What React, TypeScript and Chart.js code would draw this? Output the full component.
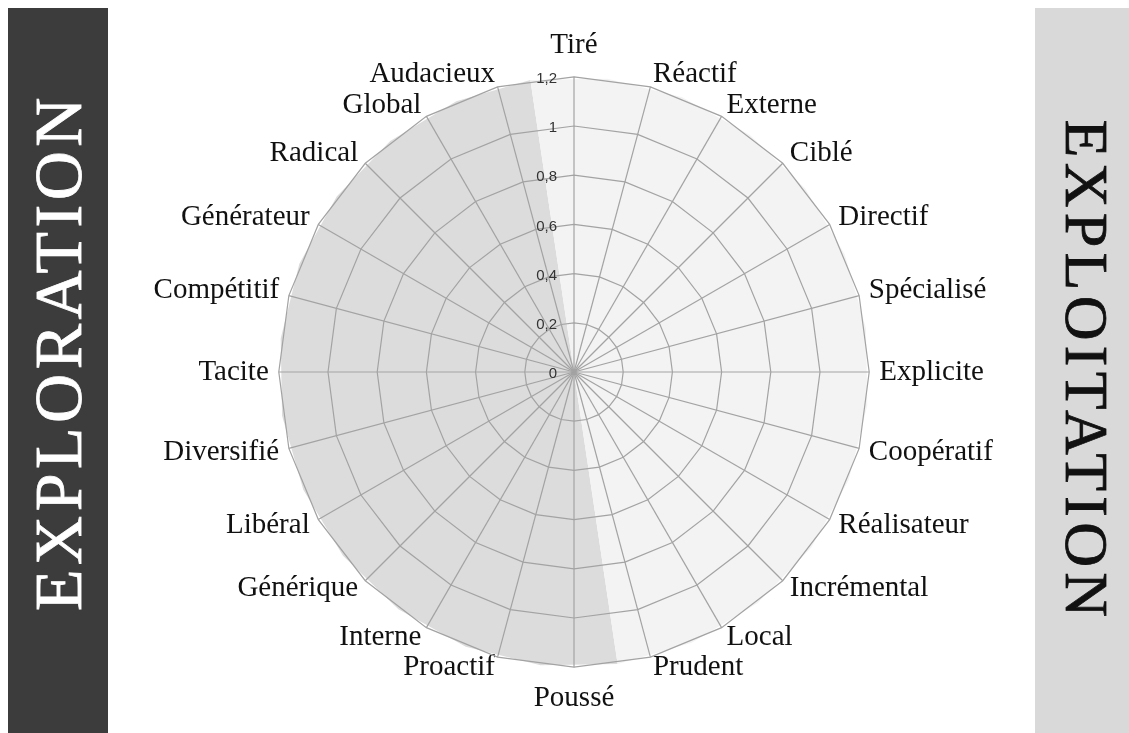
import React, { useEffect, useRef } from 'react';
import { Chart, registerables } from 'chart.js';

Chart.register(...registerables);

// ---- Data ----
const categories = [
  'Tiré', 'Réactif', 'Externe', 'Ciblé', 'Directif', 'Spécialisé',
  'Explicite', 'Coopératif', 'Réalisateur', 'Incrémental', 'Local', 'Prudent',
  'Poussé', 'Proactif', 'Interne', 'Générique', 'Libéral', 'Diversifié',
  'Tacite', 'Compétitif', 'Générateur', 'Radical', 'Global', 'Audacieux',
];
const exploitationValues = [
  1.2, 1.2, 1.2, 1.2, 1.2, 1.2, 1.2, 1.2, 1.2, 1.2, 1.2, 1.2,
  1.2, 0, 0, 0, 0, 0, 0, 0, 0, 0, 0, 0,
];
const explorationValues = [
  1.2, 0, 0, 0, 0, 0, 0, 0, 0, 0, 0, 0,
  1.2, 1.2, 1.2, 1.2, 1.2, 1.2, 1.2, 1.2, 1.2, 1.2, 1.2, 1.2,
];
const tickLabels = ['0', '0,2', '0,4', '0,6', '0,8', '1', '1,2'];
const axisMin = 0;
const axisMax = 1.2;
const axisStep = 0.2;
const leftPanelTitle = 'EXPLORATION';
const rightPanelTitle = 'EXPLOITATION';

// ---- Styles ----
const shadeTiltDeg = -8.5;
const lightFill = '#f3f3f3';
const darkFill = '#dcdcdc';
const gridColor = '#a3a3a3';
const serif = "'Liberation Serif', 'DejaVu Serif', serif";

function labelLineHeight(i: number) {
  const n = categories.length;
  if (i === 0 || i === n / 2 || i === n / 4 || i === (3 * n) / 4) return 1.2;
  const upper = i < n / 4 || i > (3 * n) / 4;
  return upper ? 0.17 : 0.07;
}
function labelPadding(i: number) {
  const n = categories.length;
  return i === 0 || i === n / 2 ? 14 : 10;
}

const tiltPlugin = {
  id: 'shadeTilt',
  beforeDatasetsDraw(chart: any) {
    const s = chart.scales.r;
    const ctx = chart.ctx;
    ctx.save();
    ctx.translate(s.xCenter, s.yCenter);
    ctx.rotate((shadeTiltDeg * Math.PI) / 180);
    ctx.translate(-s.xCenter, -s.yCenter);
  },
  afterDatasetsDraw(chart: any) {
    chart.ctx.restore();
  },
};

const tickLabelPlugin = {
  id: 'sideTicks',
  afterDraw(chart: any) {
    const s = chart.scales.r;
    const ctx = chart.ctx;
    ctx.save();
    ctx.font = "15px 'Liberation Sans', sans-serif";
    ctx.fillStyle = '#333333';
    ctx.textAlign = 'right';
    ctx.textBaseline = 'middle';
    s.ticks.forEach((t: any, i: number) => {
      const d = s.getDistanceFromCenterForValue(t.value);
      ctx.fillText(tickLabels[i] ?? String(t.label), s.xCenter - 17, s.yCenter - d + 2);
    });
    ctx.restore();
  },
};

function RadarChart() {
  const ref = useRef<HTMLCanvasElement | null>(null);
  useEffect(() => {
    if (!ref.current) return;
    const chart = new Chart(ref.current, {
      type: 'radar',
      data: {
        labels: categories,
        datasets: [
          {
            label: 'Exploitation',
            data: exploitationValues,
            backgroundColor: lightFill,
            borderWidth: 0,
            borderColor: 'rgba(0,0,0,0)',
            pointRadius: 0,
            pointHoverRadius: 0,
            fill: 'origin',
            clip: false as any,
          },
          {
            label: 'Exploration',
            data: explorationValues,
            backgroundColor: darkFill,
            borderWidth: 0,
            borderColor: 'rgba(0,0,0,0)',
            pointRadius: 0,
            pointHoverRadius: 0,
            fill: 'origin',
            clip: false as any,
          },
        ],
      },
      options: {
        responsive: false,
        animation: false,
        layout: { padding: { top: 28, bottom: 17, left: 0, right: 0 } },
        plugins: {
          legend: { display: false },
          tooltip: { enabled: false },
          filler: { drawTime: 'beforeDatasetDraw' } as any,
        },
        scales: {
          r: {
            min: axisMin,
            max: axisMax,
            beginAtZero: true,
            grid: { color: gridColor, lineWidth: 1.2, z: 1 } as any,
            angleLines: { color: gridColor, lineWidth: 1.2 },
            ticks: {
              display: false,
              stepSize: axisStep,
              z: 1,
              callback: (_v: any, i: number) => tickLabels[i],
            },
            pointLabels: {
              color: '#111111',
              padding: ((ctx: any) => labelPadding(ctx.index)) as any,
              font: ((ctx: any) => ({
                family: serif,
                size: 29,
                lineHeight: labelLineHeight(ctx.index),
              })) as any,
            },
          },
        },
      },
      plugins: [tiltPlugin, tickLabelPlugin],
    });
    return () => chart.destroy();
  }, []);
  return <canvas ref={ref} width={927} height={733} style={{ display: 'block' }} />;
}

export default function App() {
  return (
    <div
      style={{
        position: 'fixed',
        left: 0,
        top: 0,
        width: 1129,
        height: 733,
        background: '#ffffff',
        overflow: 'hidden',
      }}
    >
      <div
        style={{
          position: 'absolute',
          left: 8,
          top: 8,
          width: 100,
          height: 725,
          background: '#3c3c3c',
        }}
      />
      <div
        style={{
          position: 'absolute',
          left: 58,
          top: 352,
          transform: 'translate(-50%, -50%) rotate(-90deg)',
          color: '#ffffff',
          fontFamily: serif,
          fontSize: 68,
          lineHeight: 1,
          letterSpacing: 4.5,
          whiteSpace: 'nowrap',
          WebkitTextStroke: '0.8px #ffffff',
        }}
      >
        {leftPanelTitle}
      </div>
      <div
        style={{
          position: 'absolute',
          left: 1035,
          top: 8,
          width: 94,
          height: 725,
          background: '#d9d9d9',
        }}
      />
      <div
        style={{
          position: 'absolute',
          left: 1087,
          top: 371,
          transform: 'translate(-50%, -50%) rotate(90deg)',
          color: '#111111',
          fontFamily: serif,
          fontSize: 62,
          lineHeight: 1,
          letterSpacing: 5.3,
          whiteSpace: 'nowrap',
          WebkitTextStroke: '0.8px #111111',
        }}
      >
        {rightPanelTitle}
      </div>
      <div style={{ position: 'absolute', left: 110, top: 0 }}>
        <RadarChart />
      </div>
    </div>
  );
}
